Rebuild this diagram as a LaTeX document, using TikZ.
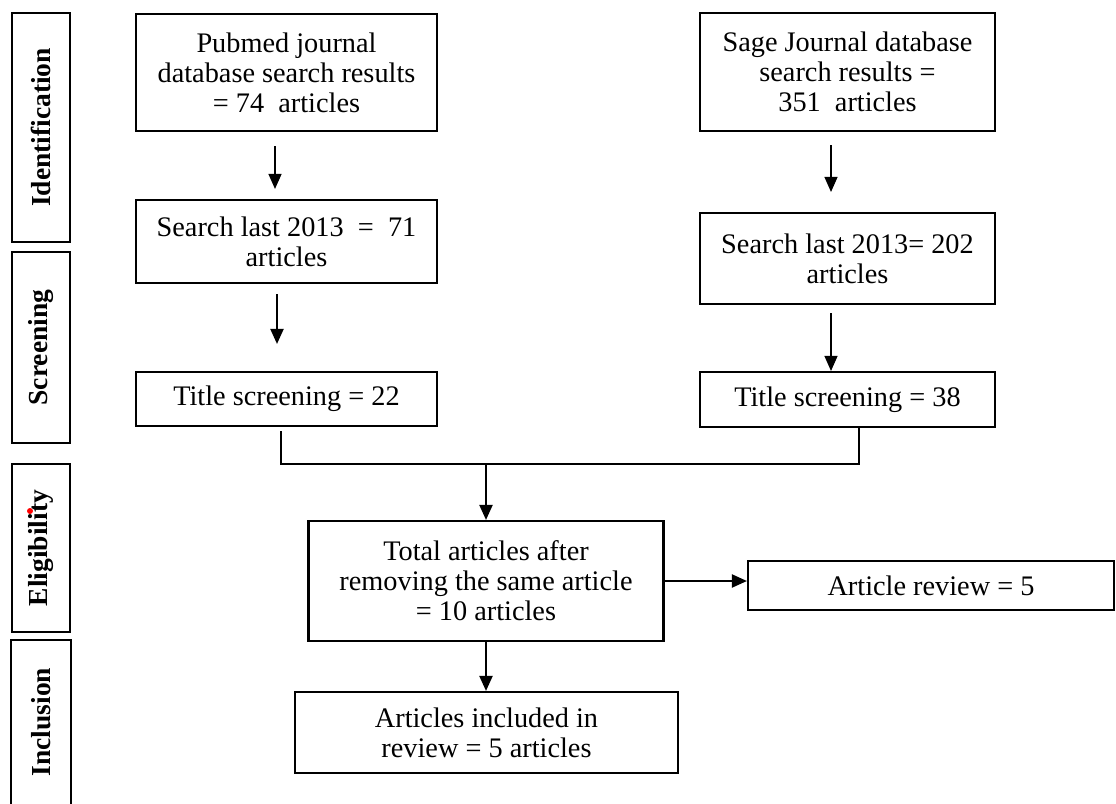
\documentclass[tikz,border=0pt]{standalone}
\usepackage{fontspec}
\setmainfont{Liberation Serif}
\usepackage{tikz}
\usetikzlibrary{arrows.meta,positioning}
\tikzstyle{box} = [rectangle, draw, line width=2.1pt, align=center, inner sep=0pt, font=\fontsize{28.3}{30}\selectfont]
\tikzstyle{stage} = [rectangle, draw, line width=2.1pt, inner sep=0pt, minimum width=58, font=\fontsize{27.5}{30}\selectfont\bfseries]
\tikzstyle{arrow} = [line width=1.2pt,-{Triangle[length=15pt,width=13pt]}]
\tikzstyle{thickarrow} = [arrow, line width=2pt]

\begin{document}
\begin{tikzpicture}[x=1pt,y=-1pt]
\useasboundingbox (0,0) rectangle (1116,803);
% stages on the left
\node [stage, minimum height=229] (ident) at (41,127.5) {\rotatebox{90}{Identification}};
\node [stage, minimum height=191] (screen) at (41,347.5) {\rotatebox{90}{Screening}};
\node [stage, minimum height=168] (elig) at (41,548) {\rotatebox{90}{Eligibility}};
\node [stage, draw=none, minimum height=162] (inclu) at (41,722) {\rotatebox{90}{Inclusion}};
\draw [line width=2.1pt] (inclu.south west) -- (inclu.north west) -- (inclu.north east) -- (inclu.south east);
\fill [red] (30,511) circle (3);
% two databases
\node [box, minimum width=301, minimum height=117] (pub) at (286.5,72.5) {Pubmed journal\\database search results\\= 74~~articles};
\node [box, minimum width=295, minimum height=118] (sage) at (847.5,72) {Sage Journal database\\search results =\\351~~articles};
\node [box, minimum width=301, minimum height=83] (srchL) at (286.5,241.5) {Search last 2013~~=~~71\\articles};
\node [box, minimum width=295, minimum height=91] (srchR) at (847.5,258.5) {Search last 2013= 202\\articles};
\node [box, minimum width=301, minimum height=54] (titL) at (286.5,399) {Title screening = 22};
\node [box, minimum width=295, minimum height=55] (titR) at (847.5,399.5) {Title screening = 38};
% merged
\node [box, minimum width=355, minimum height=120] (total) at (486,581) {Total articles after\\removing the same article\\= 10 articles};
\node [box, minimum width=366, minimum height=49] (review) at (931,585.5) {Article review = 5};
\node [box, minimum width=383, minimum height=81] (incl) at (486.5,732.5) {Articles included in\\review = 5 articles};
\coordinate (joinL) at (281,464);
\coordinate (joinR) at (859,464);
\coordinate (joinC) at (486,464);
\draw [arrow] ([xshift=-11.5pt,yshift=-14pt]pub.south) -- ([xshift=-11.5pt,yshift=10pt]srchL.north);
\draw [thickarrow] ([xshift=-9.5pt,yshift=-10pt]srchL.south) -- ([xshift=-9.5pt,yshift=27pt]titL.north);
\draw [arrow] ([xshift=-16.5pt,yshift=-13pt]sage.south) -- ([xshift=-16.5pt,yshift=20pt]srchR.north);
\draw [arrow] ([xshift=-16.5pt,yshift=-8pt]srchR.south) -- ([xshift=-16.5pt]titR.north);
\draw [line width=1.5pt] (titL.south -| joinL) ++(0,4) -- (joinL) -- (joinR) -- (titR.south -| joinR);
\draw [thickarrow] (joinC) -- (total);
\draw [thickarrow] (total.east) -- (total.east -| review.west);
\draw [thickarrow] (total.south) -- (total.south |- incl.north);
\end{tikzpicture}
\end{document}
